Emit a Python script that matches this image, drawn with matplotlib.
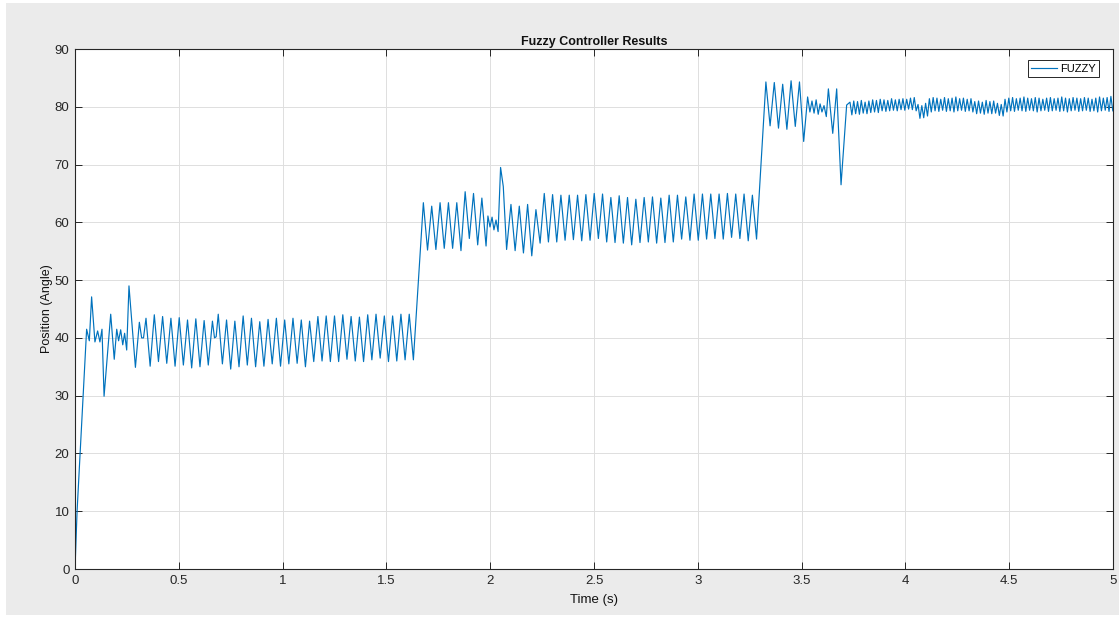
import numpy as np
import matplotlib
matplotlib.use("Agg")
import matplotlib.pyplot as plt
from matplotlib.patches import Rectangle

plt.rcParams['font.family'] = ['Liberation Sans', 'DejaVu Sans']

# ---- data (extrema of the response) ----
# start-up transient
T_START = [0.000, 0.010, 0.039, 0.056, 0.069, 0.080, 0.096, 0.109, 0.120, 0.130,
           0.140, 0.172, 0.189, 0.201, 0.210, 0.220, 0.230, 0.239, 0.249, 0.260,
           0.291, 0.310, 0.321, 0.330]
Y_START = [0.0, 10.0, 30.0, 41.5, 39.5, 47.1, 39.3, 41.2, 39.3, 41.5,
           29.9, 44.1, 36.3, 41.5, 39.5, 41.4, 38.8, 40.8, 37.9, 49.0,
           34.9, 42.7, 40.0, 40.0]

# ~40 deg level, first part (0.342 .. 0.662 s)
SEG1A_SPAN = (0.342, 0.662)
SEG1A_PEAKS = [43.4, 44.0, 43.7, 43.4, 43.5, 43.1, 43.3, 43.0, 42.9]
SEG1A_TROUGHS = [35.1, 35.9, 35.6, 35.1, 35.3, 34.8, 35.0, 35.3]

T_FLAT1 = [0.672, 0.680]
Y_FLAT1 = [40.0, 40.2]

# ~40 deg level, second part (0.690 .. 1.630 s)
SEG1B_SPAN = (0.690, 1.630)
SEG1B_PEAKS = [44.1, 43.1, 42.9, 43.8, 43.4, 42.8, 43.2, 43.4, 43.1, 43.4, 43.1, 42.9,
               43.7, 43.8, 43.8, 44.0, 43.7, 43.6, 44.0, 44.1, 43.8, 43.8, 44.1, 44.1]
SEG1B_TROUGHS = [35.5, 34.6, 35.0, 35.3, 35.0, 35.1, 35.5, 35.1, 35.5, 35.6, 35.0, 35.9,
                 36.0, 35.9, 35.9, 36.3, 36.0, 35.9, 36.2, 36.5, 35.9, 36.0, 36.2, 36.2]

# ~60 deg level, first part (1.678 .. 1.980 s)
SEG2A_SPAN = (1.678, 1.980)
SEG2A_PEAKS = [63.4, 62.8, 63.4, 63.4, 63.4, 65.3, 65.0, 64.2]
SEG2A_TROUGHS = [55.2, 55.3, 55.5, 55.5, 55.1, 57.2, 56.1, 55.9]

T_MID2 = [1.989, 1.999, 2.009, 2.018, 2.028, 2.038, 2.050, 2.063, 2.079]
Y_MID2 = [61.1, 59.2, 60.9, 58.7, 60.4, 58.4, 69.5, 66.2, 55.3]

# ~60 deg level, second part (2.100 .. 3.283 s)
SEG2B_SPAN = (2.100, 3.283)
SEG2B_PEAKS = [63.1, 62.8, 63.1, 62.2, 65.0, 64.8, 64.7, 64.7, 64.7, 64.8,
               65.0, 64.9, 64.3, 64.6, 64.3, 64.0, 64.3, 64.4, 64.2, 64.7,
               64.7, 64.4, 64.9, 64.9, 64.9, 64.9, 65.0, 64.9, 64.9, 64.7]
SEG2B_TROUGHS = [55.1, 54.7, 54.2, 56.4, 56.6, 56.6, 56.9, 57.0, 56.8, 56.9,
                 57.2, 56.6, 56.5, 56.4, 56.1, 56.5, 56.6, 56.4, 56.5, 56.6,
                 57.1, 56.9, 56.9, 57.1, 57.2, 57.1, 57.4, 57.2, 56.8, 57.1]

# ~80 deg level, large swings (3.328 .. 3.510 s)
SEG3A_SPAN = (3.328, 3.510)
SEG3A_PEAKS = [84.3, 84.2, 83.9, 84.5, 84.3]
SEG3A_TROUGHS = [76.7, 76.3, 76.1, 76.6, 74.0]

T_MID3 = [3.529, 3.540, 3.550, 3.560, 3.570, 3.580, 3.589, 3.598, 3.608, 3.619,
          3.629, 3.650, 3.669, 3.690, 3.717]
Y_MID3 = [81.7, 79.1, 81.0, 78.9, 81.2, 78.7, 80.5, 79.1, 80.2, 78.3,
          83.1, 75.4, 83.1, 66.5, 80.3]

# ~80 deg level, small fast ripple (3.733 .. 4.999 s)
SEG3B_SPAN = (3.733, 4.999)
SEG3B_PEAKS = [80.8, 81.0, 80.9, 81.1, 80.8, 81.0, 81.2, 81.1, 81.3, 81.2, 81.1, 81.4,
               81.2, 81.3, 81.4, 81.3, 81.5, 81.6,
               80.4, 80.2, 80.6,
               81.4, 81.6, 81.5, 81.3, 81.6, 81.4, 81.5, 81.7, 81.4, 81.5, 81.3, 81.4,
               80.9, 81.0, 80.8, 81.1, 80.9, 81.0,
               80.6, 80.4,
               81.3, 81.5, 81.6, 81.4, 81.5, 81.7, 81.5, 81.4, 81.6, 81.5, 81.3, 81.5,
               81.6, 81.4, 81.5, 81.7, 81.5, 81.4, 81.6, 81.5, 81.4, 81.6, 81.5, 81.3,
               81.5, 81.7, 81.5, 81.6, 81.8]
SEG3B_TROUGHS = [78.6, 78.8, 78.7, 78.9, 78.8, 79.0, 79.1, 79.0, 79.3, 79.2, 79.3, 79.4,
                 79.3, 79.5, 79.4, 79.6, 79.5, 79.3,
                 78.0, 78.1, 78.4,
                 79.1, 79.3, 79.2, 79.4, 79.2, 79.3, 79.1, 79.3, 79.4, 79.2, 79.3, 79.1,
                 78.8, 78.9, 78.7, 78.9, 78.8, 78.9,
                 78.5, 78.4,
                 79.1, 79.3, 79.2, 79.4, 79.3, 79.2, 79.4, 79.3, 79.1, 79.3, 79.4, 79.2,
                 79.3, 79.4, 79.2, 79.3, 79.1, 79.3, 79.4, 79.2, 79.3, 79.4, 79.2, 79.3,
                 79.1, 79.3, 79.4, 79.2, 79.3]


def seg(span, peaks, troughs):
    # peaks and troughs alternate, starting with a peak, evenly spaced in time
    vals = []
    for i in range(max(len(peaks), len(troughs))):
        if i < len(peaks):
            vals.append(peaks[i])
        if i < len(troughs):
            vals.append(troughs[i])
    t = np.linspace(span[0], span[1], len(vals))
    return list(t), vals


pieces = [
    (T_START, Y_START),
    seg(SEG1A_SPAN, SEG1A_PEAKS, SEG1A_TROUGHS),
    (T_FLAT1, Y_FLAT1),
    seg(SEG1B_SPAN, SEG1B_PEAKS, SEG1B_TROUGHS),
    seg(SEG2A_SPAN, SEG2A_PEAKS, SEG2A_TROUGHS),
    (T_MID2, Y_MID2),
    seg(SEG2B_SPAN, SEG2B_PEAKS, SEG2B_TROUGHS),
    seg(SEG3A_SPAN, SEG3A_PEAKS, SEG3A_TROUGHS),
    (T_MID3, Y_MID3),
    seg(SEG3B_SPAN, SEG3B_PEAKS, SEG3B_TROUGHS),
]
t = np.concatenate([np.asarray(p[0], float) for p in pieces])
y = np.concatenate([np.asarray(p[1], float) for p in pieces])

# ---- figure ----
W, H = 1119, 618
fig = plt.figure(figsize=(W / 100, H / 100), dpi=100, facecolor='white')
fig.patches.append(Rectangle((6 / W, 3 / H), 1 - 6 / W, 1 - 6 / H,
                             transform=fig.transFigure, facecolor='#ebebeb',
                             edgecolor='none', zorder=-10))

ax = fig.add_axes([75 / W, 49 / H, 1038 / W, 520 / H])
ax.set_facecolor('white')
ax.plot(t, y, color='#0072BD', linewidth=0.85, label='FUZZY')

ax.set_xlim(0, 5)
ax.set_ylim(0, 90)
ax.set_xticks(np.arange(0, 5.01, 0.5))
ax.set_xticklabels(['0', '0.5', '1', '1.5', '2', '2.5', '3', '3.5', '4', '4.5', '5'])
ax.set_yticks(np.arange(0, 91, 10))
ax.grid(True, color='#dedede', linewidth=0.7)
ax.set_axisbelow(True)

axis_col = '#262626'
for s in ax.spines.values():
    s.set_color(axis_col)
    s.set_linewidth(0.8)
ax.tick_params(direction='in', top=True, right=True, length=5, width=0.7,
               colors=axis_col, labelsize=9.5, pad=4)

ax.set_title('Fuzzy Controller Results', fontsize=9, fontweight='bold',
             color='#111111', pad=3)
ax.set_xlabel('Time (s)', fontsize=9.5, color='#111111', labelpad=5)
ax.set_ylabel('Position (Angle)', fontsize=9, color='#111111', labelpad=1)

leg = ax.legend(loc='upper right', bbox_to_anchor=(0.9865, 0.978), fontsize=8,
                fancybox=False, framealpha=1, edgecolor='#262626',
                handlelength=2.3, borderpad=0.3, handletextpad=0.3,
                borderaxespad=0)
leg.get_frame().set_linewidth(0.7)

fig.savefig('out.png', dpi=100, facecolor=fig.get_facecolor())
